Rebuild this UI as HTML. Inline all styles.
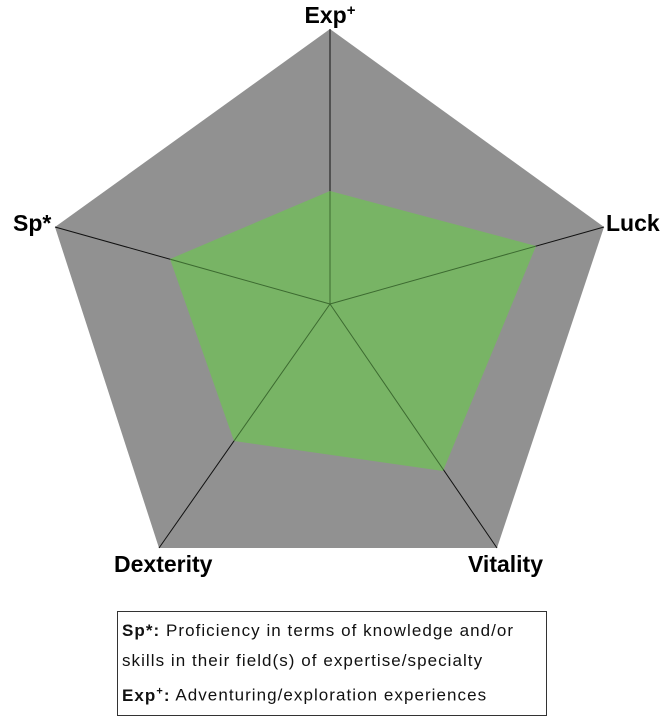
<!DOCTYPE html>
<html><head><meta charset="utf-8"><style>
html,body{margin:0;padding:0;background:#fff;width:665px;height:728px;overflow:hidden}
svg{position:absolute;left:0;top:0}
.lb{font-family:"Liberation Sans",sans-serif;font-weight:bold;font-size:23px;fill:#000}
.box{position:absolute;left:117px;top:611px;width:428px;height:103px;border:1px solid #333;font-family:"Liberation Sans",sans-serif;font-size:17px;letter-spacing:1.05px;color:#111;box-sizing:content-box}
.box div{position:absolute;left:4px;white-space:nowrap}
</style></head><body>
<svg width="665" height="728" viewBox="0 0 665 728">
<defs><clipPath id="g"><polygon points="330,191 536,246 443,471 234,441 170,259"/></clipPath></defs>
<polygon points="330,29 604,227 497,548 159,548 55,227" fill="#919191"/>
<g stroke="#111" stroke-width="1">
<line x1="330" y1="304" x2="330" y2="29"/><line x1="330" y1="304" x2="604" y2="227"/>
<line x1="330" y1="304" x2="497" y2="548"/><line x1="330" y1="304" x2="159" y2="548"/>
<line x1="330" y1="304" x2="55" y2="227"/></g>
<polygon points="330,191 536,246 443,471 234,441 170,259" fill="#78b465"/>
<g stroke="#3c6a30" stroke-width="1" clip-path="url(#g)">
<line x1="330" y1="304" x2="330" y2="29"/><line x1="330" y1="304" x2="604" y2="227"/>
<line x1="330" y1="304" x2="497" y2="548"/><line x1="330" y1="304" x2="159" y2="548"/>
<line x1="330" y1="304" x2="55" y2="227"/></g>
<text class="lb" x="330" y="23" text-anchor="middle">Exp<tspan font-size="15" dy="-8">+</tspan></text>
<text class="lb" x="13" y="231">Sp*</text>
<text class="lb" x="606" y="231">Luck</text>
<text class="lb" x="114" y="572">Dexterity</text>
<text class="lb" x="468" y="572">Vitality</text>
</svg>
<div class="box">
<div style="top:9px"><b>Sp*:</b> Proficiency in terms of knowledge and/or</div>
<div style="top:39px">skills in their field(s) of expertise/specialty</div>
<div style="top:73px"><b>Exp<sup style="font-size:11px">+</sup>:</b> Adventuring/exploration experiences</div>
</div>
</body></html>
